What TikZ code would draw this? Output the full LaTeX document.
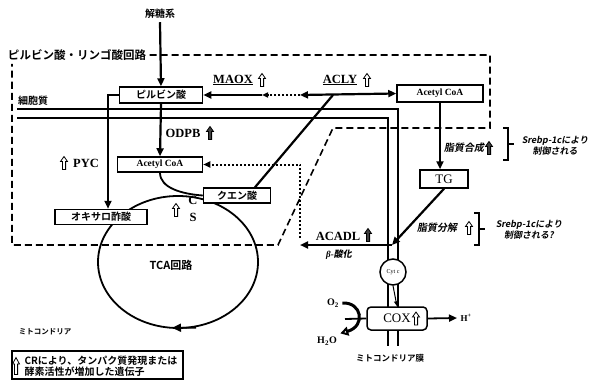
\documentclass[tikz,border=0pt]{standalone}
\usepackage{fontspec}
\setmainfont{Liberation Serif}
\newfontfamily\jp{Noto Sans CJK JP}[BoldFont={Noto Sans CJK JP Bold}]
\newfontfamily\jpit{Noto Sans CJK JP}[BoldFont={Noto Sans CJK JP Bold}, FakeSlant=0.18]
\newcommand\fsz[1]{\fontsize{#1}{#1}\selectfont}
\usetikzlibrary{arrows.meta}

\begin{document}
\begin{tikzpicture}[x=1pt, y=-1pt,
    box/.style={draw, line width=1.5pt, fill=white, inner sep=0pt, minimum height=15pt},
    jtxt/.style={font=\jp\bfseries\fsz{10}},
    jsrebp/.style={font=\jpit\bfseries\fsz{9}, align=center},
    enz/.style={font=\bfseries\fsz{12.5}},
    acoa/.style={font=\bfseries\fsz{9.5}},
    arr/.style={line width=2.2pt, -{Triangle[length=8pt, width=7pt]}},
    dotarr/.style={line width=2pt, dash pattern=on 2pt off 2pt, -{Triangle[length=7pt, width=6pt]}},
    mem/.style={line width=1.8pt},
    hup/.pic={\draw[line width=0.8pt, fill=white] (0,-6.5) -- (3.5,-1.5) -- (1.6,-1.5) -- (1.6,6.5) -- (-1.6,6.5) -- (-1.6,-1.5) -- (-3.5,-1.5) -- cycle;},
    fup/.pic={\draw[line width=0.8pt, fill=black!75] (0,-6.5) -- (3.5,-1.5) -- (1.6,-1.5) -- (1.6,6.5) -- (-1.6,6.5) -- (-1.6,-1.5) -- (-3.5,-1.5) -- cycle;}]

    \useasboundingbox (0,0) rectangle (593,385);

    % Membrana mitocondriale
    \draw[mem] (17,109) -- (398,109) -- (398,346);
    \draw[mem] (17,118) -- (388,118) -- (388,346);

    % Ciclo TCA
    \draw[line width=1.8pt] (178,262) ellipse [x radius=80, y radius=66];
    \draw[line width=1.8pt, -{Triangle[length=9pt, width=8pt]}] (196,327.6) -- (172,327.8);

    % Nodi
    \node[jtxt] (glic) at (160,14) {解糖系};
    \node[jtxt, font=\jp\bfseries\fsz{11.5}] (ciclo) at (77,55) {ピルビン酸・リンゴ酸回路};
    \node[jtxt] (cito) at (33,101) {細胞質};
    \node[box, jtxt, minimum width=83pt, minimum height=16pt] (piru) at (161,95) {ピルビン酸};
    \node[box, acoa, minimum width=85pt] (acoa1) at (160,164.5) {Acetyl CoA};
    \node[box, acoa, minimum width=86pt, minimum height=17pt] (acoa2) at (440,93.5) {Acetyl CoA};
    \node[box, jtxt, minimum width=67pt] (citr) at (237,195.5) {クエン酸};
    \node[box, jtxt, minimum width=92pt] (oxa) at (101,217) {オキサロ酢酸};
    \node[box, font=\fsz{13}, minimum width=48pt, minimum height=18pt] (tg) at (444,179) {TG};
    \node[circle, draw, line width=1.5pt, fill=white, minimum size=26pt, inner sep=0pt, font=\fsz{6}] (cytc) at (393,272) {Cyt c};
    \node[box, rounded corners=4pt, font=\fsz{13}, minimum width=60pt, minimum height=23pt] (cox) at (397,318.5) {COX\hspace{10pt}};
    \pic at (416,318.5) {hup};

    % Contorno del ciclo piruvato-malato
    \draw[line width=1.6pt, dash pattern=on 7pt off 4pt] (ciclo.east) -- (490,55) -- (490,128) -- (333,128) -- (278,245) -- (12,245) -- (12,64);

    % Punti di giunzione
    \coordinate (jA) at (300,95);
    \coordinate (jM) at (262,95);
    \coordinate (jC) at (333,95);
    \coordinate (jB) at (392,245);
    \coordinate (bo) at (300,245);
    \coordinate (lm) at (345,319);

    % Frecce principali
    \draw[arr] (glic.south) -- (piru.north);
    \draw[arr] (piru.south) -- (acoa1.north);
    \draw[arr] (piru.west) -| ([xshift=7pt]oxa.north);
    \draw[line width=2.2pt, {Triangle[length=8pt, width=7pt]}-{Triangle[length=8pt, width=7pt]}] (jA) -- (acoa2.west);
    \draw[dotarr, -{Triangle[length=6pt, width=5pt]}] (jA) -- (jM);
    \draw[arr] (jM) -- (piru.east);
    \draw[line width=2.2pt] ([xshift=18pt]citr.north) -- (jC);
    \draw[line width=1.8pt] (acoa1.south) .. controls (160,188) and (182,194) .. (citr.west);
    \draw[arr] (acoa2.south) -- (acoa2.south |- tg.north);
    \draw[arr] (tg.south) -- (jB);
    \draw[arr] (jB) -- (bo);
    \draw[dotarr] (300,238) |- (acoa1.east);

    % Catena respiratoria
    \draw[line width=1pt, -{Triangle[length=5pt, width=4pt]}] (cytc.south) -- (cox.north);
    \node[font=\bfseries\fsz{10}] (o2) at (333,303) {O\textsubscript{2}};
    \node[font=\bfseries\fsz{10}] (h2o) at (327,341) {H\textsubscript{2}O};
    \node[font=\bfseries\fsz{9}] (hp) at (466,318) {H\textsuperscript{+}};
    \draw[line width=3pt, -{Triangle[open, length=8pt, width=9pt]}] (o2.east) .. controls (362,302) and (366,326) .. (h2o.north east);
    \draw[mem] (lm) -- (cox.west);
    \draw[arr, line width=1.8pt] (cox.east) -- (hp.west);

    % Enzimi
    \node[enz] (maox) at (233,80) {\underline{MAOX}};
    \pic at (262,80) {hup};
    \node[enz] (acly) at (340,80) {\underline{ACLY}};
    \pic at (367,80) {hup};
    \node[enz] (odpb) at (183,133) {ODPB};
    \pic at (210,133) {fup};
    \node[enz] (pyc) at (86,163) {PYC};
    \pic at (64,163) {hup};
    \node[enz] (cs1) at (193,200) {C};
    \node[enz] (cs2) at (193,217) {S};
    \pic at (176,210) {hup};
    \node[enz] (acadl) at (338,236) {ACADL};
    \pic at (368,235) {fup};
    \node[font=\bfseries\itshape\fsz{9}] (beta) at (339,255) {β-{\jpit 酸化}};

    % Sintesi e degradazione dei lipidi
    \node[font=\jpit\bfseries\fsz{10}] (sint) at (464,148) {脂質合成};
    \pic at (489,148) {fup};
    \draw[line width=1.2pt] (503,128) -- (508,128) -- (508,160) -- (503,160);
    \draw[line width=1.2pt] (508,144) -- (514,144);
    \node[jsrebp] (sr1) at (555,146) {Srebp-1cにより\\制御される};
    \node[font=\jpit\bfseries\fsz{10}] (degr) at (437,228) {脂質分解};
    \pic at (469,228) {hup};
    \draw[line width=1.2pt] (474,213) -- (479,213) -- (479,245) -- (474,245);
    \draw[line width=1.2pt] (479,229) -- (485,229);
    \node[jsrebp] (sr2) at (529,230) {Srebp-1cにより\\制御される?};

    % Etichette
    \node[font=\jp\bfseries\fsz{11}] (tca) at (171,265) {TCA回路};
    \node[font=\jp\bfseries\fsz{7.5}] (mito) at (45,332) {ミトコンドリア};
    \node[font=\jp\bfseries\fsz{8.5}] (mmem) at (390,358) {ミトコンドリア膜};

    % Legenda
    \node[draw, line width=1.3pt, minimum width=171pt, minimum height=28pt] (leg) at (97.5,365) {};
    \node[anchor=west, align=left, font=\jp\bfseries\fontsize{10}{11}\selectfont] (legt) at (21,366) {CRにより、タンパク質発現または\\酵素活性が増加した遺伝子};
    \pic[yscale=1.3] at (16,366) {hup};
\end{tikzpicture}
\end{document}
